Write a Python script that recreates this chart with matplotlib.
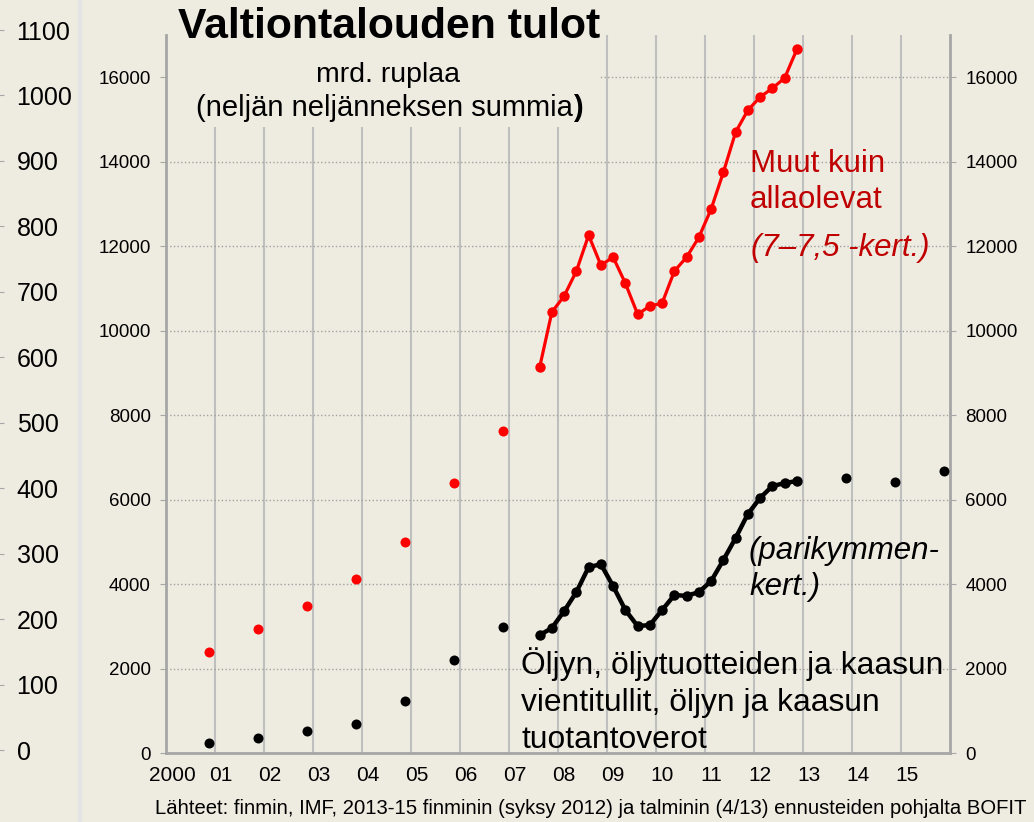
import matplotlib.pyplot as plt
from matplotlib.patches import Rectangle

plt.rcParams['font.family'] = ['Liberation Sans', 'DejaVu Sans']

BG = '#EEECE1'
RED = '#FF0000'
DARKRED = '#C00000'
GRID = '#BFBFBF'
AXC = '#A6A6A6'

# vuosiarvot (piirretty vuoden Q4 kohdalle)
annual_years = [2000, 2001, 2002, 2003, 2004, 2005, 2006]
muut_annual = [2390, 2935, 3480, 4120, 4990, 6390, 7620]
oljy_annual = [240, 355, 520, 690, 1230, 2200, 2980]

# neljännesvuosittaiset liukuvat summat 2007Q3 - 2012Q4
q_years = [2007, 2007] + [y for y in range(2008, 2013) for _ in range(4)]
q_nums = [3, 4] + [1, 2, 3, 4] * 5
muut_q = [9130, 10440, 10820, 11410, 12260, 11550, 11740, 11120, 10390, 10580, 10650,
          11410, 11740, 12210, 12880, 13750, 14700, 15220, 15530, 15740, 15980, 16660]
oljy_q = [2790, 2960, 3360, 3810, 4400, 4470, 3950, 3385, 3005, 3030, 3385,
          3740, 3720, 3810, 4070, 4570, 5090, 5660, 6040, 6320, 6390, 6440]

# ennusteet 2013-15
fc_years = [2013, 2014, 2015]
oljy_fc = [6520, 6420, 6680]

year_labels = ['2000', '01', '02', '03', '04', '05', '06', '07', '08',
               '09', '10', '11', '12', '13', '14', '15']
y_ticks = list(range(0, 16001, 2000))
outer_ticks = list(range(0, 1101, 100))

W, H = 1034, 822


def fx(px):
    return px / W


def fy(py):
    return 1 - py / H


fig = plt.figure(figsize=(W / 100, H / 100), dpi=100, facecolor=BG)

# vaalea pystyraita vasemmalla
fig.patches.append(Rectangle((fx(78), 0), fx(4), 1, transform=fig.transFigure,
                             facecolor='#E4E4E6', edgecolor='none', zorder=0))

# vasemman reunan erillinen asteikko 0-1100
ax0 = fig.add_axes([fx(4), fy(750), 0.0001, (750 - 30) / H])
ax0.set_ylim(0, 1100)
ax0.set_yticks(outer_ticks)
ax0.yaxis.tick_right()
ax0.tick_params(axis='y', direction='in', length=4, color=AXC, labelsize=18, pad=9)
ax0.set_xticks([])
for s in ax0.spines.values():
    s.set_visible(False)
ax0.patch.set_alpha(0)

# pääkuvio
ax = fig.add_axes([fx(166), fy(753), (950 - 166) / W, (753 - 35) / H])
ax.set_facecolor(BG)
ax.set_xlim(2000, 2016)
ax.set_ylim(0, 17000)

ax.set_xticks([y + 0.125 for y in range(2000, 2016)])
ax.set_xticklabels(year_labels)
ax.set_xticks(list(range(2001, 2016)), minor=True)
ax.tick_params(axis='x', which='both', length=0, labelsize=15, pad=9)
ax.grid(which='minor', axis='x', color=GRID, lw=1.5)

ax.set_yticks(y_ticks)
ax.tick_params(axis='y', direction='out', length=4, color=AXC, labelsize=13.5, pad=7,
               right=True, labelright=True)
ax.yaxis.grid(True, ls=':', color='#A0A0A0', lw=1)
ax.set_axisbelow(True)

ax.spines['top'].set_visible(False)
for k in ['left', 'right', 'bottom']:
    ax.spines[k].set_color(AXC)
    ax.spines[k].set_linewidth(2)

# otsikkolaatikko peittää ruudukon
ax.add_patch(Rectangle((0.004, 0.872), 0.55, 0.2, transform=ax.transAxes,
                       facecolor=BG, edgecolor='none', zorder=1))

ann_x = [y + 0.875 for y in annual_years]
q_x = [y + (q - 0.5) / 4 for y, q in zip(q_years, q_nums)]
fc_x = [y + 0.875 for y in fc_years]

ax.plot(ann_x, muut_annual, 'o', color=RED, ms=7.2, mec='none', zorder=3)
ax.plot(ann_x, oljy_annual, 'o', color='black', ms=7.2, mec='none', zorder=3)
ax.plot(q_x, muut_q, '-o', color=RED, lw=2.3, ms=7.5, mec='none', zorder=3)
ax.plot(q_x, oljy_q, '-o', color='black', lw=3.2, ms=7.5, mec='none', zorder=3)
ax.plot(fc_x, oljy_fc, 'o', color='black', ms=7.2, mec='none', zorder=3)

# tekstit
fig.text(fx(389), fy(27), 'Valtiontalouden tulot', ha='center', va='center',
         fontsize=30.8, fontweight='bold')
fig.text(fx(388), fy(75), 'mrd. ruplaa', ha='center', va='center', fontsize=20.5)
fig.text(fx(573), fy(108), '(neljän neljänneksen summia', ha='right', va='center', fontsize=21)
fig.text(fx(573), fy(108), ')', ha='left', va='center', fontsize=21, fontweight='bold')

fig.text(fx(750), fy(172), 'Muut kuin', color=DARKRED, fontsize=22.5, va='baseline')
fig.text(fx(750), fy(208), 'allaolevat', color=DARKRED, fontsize=22.5, va='baseline')
fig.text(fx(751), fy(256), '(7\u20137,5 -kert.)', color=DARKRED, fontsize=22.5,
         style='italic', va='baseline')

fig.text(fx(749), fy(559), '(parikymmen-', fontsize=22.5, style='italic', va='baseline')
fig.text(fx(749), fy(595), 'kert.)', fontsize=22.5, style='italic', va='baseline')

fig.text(fx(521), fy(674), 'Öljyn, öljytuotteiden ja kaasun', fontsize=22.9, va='baseline')
fig.text(fx(521), fy(711), 'vientitullit, öljyn ja kaasun', fontsize=22.9, va='baseline')
fig.text(fx(521), fy(748), 'tuotantoverot', fontsize=22.9, va='baseline')

fig.text(fx(591), fy(808), 'Lähteet: finmin, IMF, 2013-15 finminin (syksy 2012) ja talminin (4/13) '
         'ennusteiden pohjalta BOFIT', ha='center', va='center', fontsize=14.6)

fig.savefig('out.png', dpi=100, facecolor=BG)
